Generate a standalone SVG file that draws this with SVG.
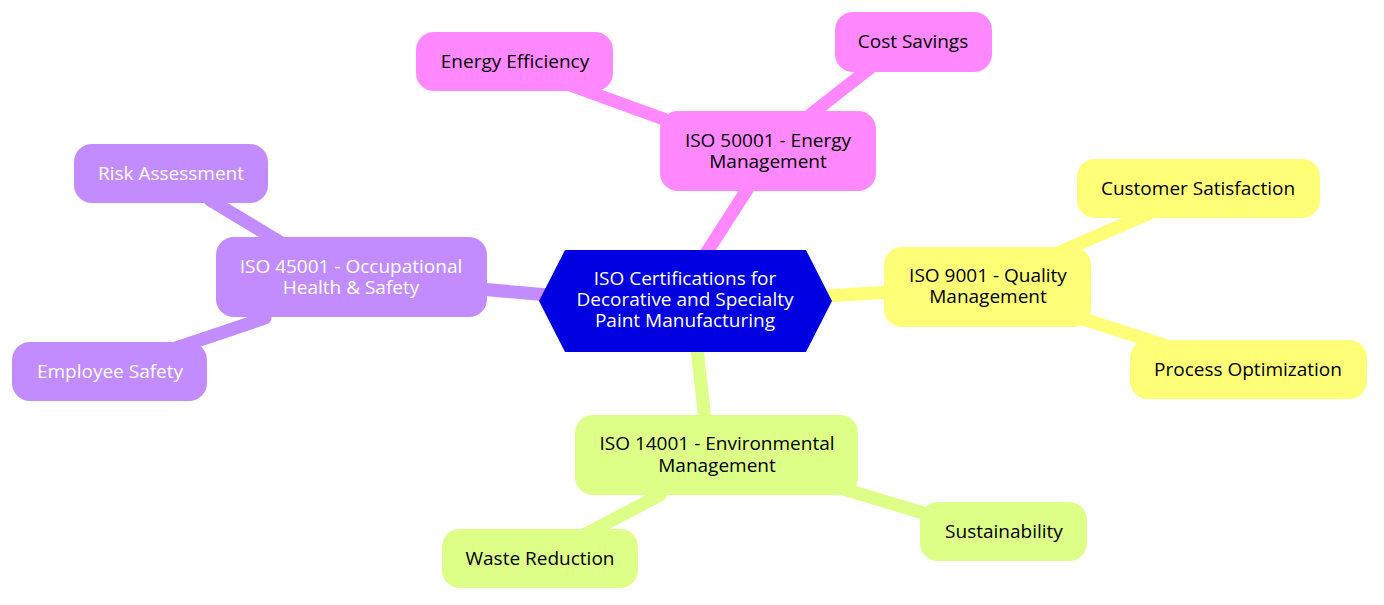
<svg xmlns="http://www.w3.org/2000/svg" width="1384" height="605" viewBox="0 0 1384 605">
<style>
text{font-family:"Open Sans","Noto Sans",sans-serif;font-size:19px;text-anchor:middle;fill:#000}
.w{fill:#fff}
.e{stroke-width:13;stroke-linecap:round;fill:none}
.pk{fill:#ff88ff}.yl{fill:#ffff77}.gr{fill:#ddff88}.pu{fill:#c28cff}
</style>
<rect width="1384" height="605" fill="#fff"/>
<g id="connectors">
<line class="e" stroke="#ff88ff" x1="705" y1="255" x2="750" y2="185"/>
<line class="e" stroke="#ff88ff" x1="680" y1="125" x2="570" y2="85"/>
<line class="e" stroke="#ff88ff" x1="810" y1="115" x2="870" y2="68"/>
<line class="e" stroke="#ffff77" x1="825" y1="296" x2="890" y2="292"/>
<line class="e" stroke="#ffff77" x1="1060" y1="252" x2="1150" y2="213"/>
<line class="e" stroke="#ffff77" x1="1080" y1="318" x2="1170" y2="347"/>
<line class="e" stroke="#ddff88" x1="697" y1="348" x2="705" y2="420"/>
<line class="e" stroke="#ddff88" x1="840" y1="488" x2="930" y2="515"/>
<line class="e" stroke="#ddff88" x1="660" y1="495" x2="580" y2="537"/>
<line class="e" stroke="#c28cff" x1="480" y1="289" x2="548" y2="295"/>
<line class="e" stroke="#c28cff" x1="280" y1="242" x2="210" y2="200"/>
<line class="e" stroke="#c28cff" x1="265" y1="318" x2="170" y2="350"/>
</g>
<g id="center"><polygon points="539,301 565,250 806,250 832,301 806,352 565,352" fill="#0000e0"/>
<text class="w" x="685" y="285">ISO Certifications for</text><text class="w" x="685" y="306">Decorative and Specialty</text><text class="w" x="685" y="327">Paint Manufacturing</text></g>
<g id="iso50001"><rect class="pk" x="660" y="111" width="216" height="80" rx="18"/><text x="768" y="147">ISO 50001 - Energy</text><text x="768" y="168">Management</text></g>
<g id="energy"><rect class="pk" x="416" y="32" width="197" height="59" rx="18"/><text x="515" y="68">Energy Efficiency</text></g>
<g id="cost"><rect class="pk" x="835" y="12" width="157" height="60" rx="18"/><text x="913" y="48">Cost Savings</text></g>
<g id="iso9001"><rect class="yl" x="884" y="247" width="207" height="80" rx="18"/><text x="988" y="282">ISO 9001 - Quality</text><text x="988" y="303">Management</text></g>
<g id="customer"><rect class="yl" x="1077" y="159" width="243" height="59" rx="18"/><text x="1198" y="195">Customer Satisfaction</text></g>
<g id="process"><rect class="yl" x="1130" y="340" width="237" height="59" rx="18"/><text x="1248" y="376">Process Optimization</text></g>
<g id="iso14001"><rect class="gr" x="575" y="415" width="283" height="80" rx="18"/><text x="717" y="450">ISO 14001 - Environmental</text><text x="717" y="472">Management</text></g>
<g id="sustain"><rect class="gr" x="920" y="502" width="167" height="59" rx="18"/><text x="1004" y="538">Sustainability</text></g>
<g id="waste"><rect class="gr" x="442" y="529" width="196" height="59" rx="18"/><text x="540" y="565">Waste Reduction</text></g>
<g id="iso45001"><rect class="pu" x="216" y="237" width="271" height="80" rx="18"/><text class="w" x="351" y="273">ISO 45001 - Occupational</text><text class="w" x="351" y="294">Health &amp; Safety</text></g>
<g id="risk"><rect class="pu" x="74" y="144" width="194" height="59" rx="18"/><text class="w" x="171" y="180">Risk Assessment</text></g>
<g id="employee"><rect class="pu" x="12" y="342" width="195" height="59" rx="18"/><text class="w" x="110" y="378">Employee Safety</text></g>
</svg>
